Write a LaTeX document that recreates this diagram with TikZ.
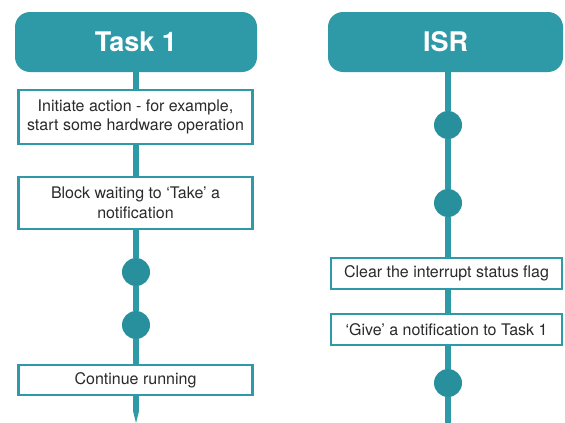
\documentclass[tikz,border=0pt]{standalone}
\usepackage{fontspec}
\setmainfont{TeX Gyre Heros}
\definecolor{teal1}{HTML}{2E9AA7}
\definecolor{teal2}{HTML}{28909D}
\definecolor{txt}{HTML}{2A2A2A}
\begin{document}
\begin{tikzpicture}[x=1pt,y=-1pt,
  header/.style={fill=teal1, draw=none, rounded corners=15pt, text=white,
    font=\fontsize{27}{30}\selectfont\bfseries, minimum height=60pt, inner sep=0pt},
  stepbox/.style={draw=teal1, line width=2.6pt, fill=white, text=txt,
    font=\fontsize{16}{19.5}\selectfont, align=center, inner sep=0pt},
  dot/.style={circle, fill=teal2, minimum size=28pt, inner sep=0pt},
  flow/.style={draw=teal1, line width=6pt}]
\useasboundingbox (0,0) rectangle (565,423);
% Task 1 column
\node[header, minimum width=242pt] (h1) at (136,42) {Task 1};
\node[stepbox, minimum width=234pt, minimum height=54pt] (b1) at (135.5,117) {Initiate action - for example,\\start some hardware operation};
\node[stepbox, minimum width=234pt, minimum height=52pt] (b2) at (135.5,203) {Block waiting to ‘Take’ a\\notification};
\node[dot] (c1) at (136,272) {};
\node[dot] (c2) at (136,325) {};
\node[stepbox, minimum width=234pt, minimum height=30pt] (b3) at (135.5,380) {Continue running};
\coordinate (e1) at (136,411);
\coordinate (t1) at (136,423);
% ISR column
\node[header, minimum width=235pt] (h2) at (445.5,42) {ISR};
\node[dot] (d1) at (448,125) {};
\node[dot] (d2) at (448,203) {};
\node[stepbox, minimum width=231pt, minimum height=31pt] (s1) at (446.5,273.5) {Clear the interrupt status flag};
\node[stepbox, minimum width=231pt, minimum height=31pt] (s2) at (446.5,329.5) {‘Give’ a notification to Task 1};
\node[dot] (d3) at (448,383) {};
\coordinate (e2) at (448,423);
% connectors Task 1
\path[flow] (h1.south) -- (h1.south |- b1.north);
\path[flow] (h1.south |- b1.south) -- (h1.south |- b2.north);
\path[flow] (h1.south |- b2.south) -- (c1.north);
\path[flow] (c1.south) -- (c2.north);
\path[flow] (c2.south) -- (h1.south |- b3.north);
\path[flow] (h1.south |- b3.south) -- (e1);
\fill[teal1] ([xshift=-3pt]e1) -- ([xshift=3pt]e1) -- (t1) -- cycle;
% connectors ISR
\path[flow] (h2.south -| d1.north) -- (d1.north);
\path[flow] (d1.south) -- (d2.north);
\path[flow] (d2.south) -- (d2.south |- s1.north);
\path[flow] (d2.south |- s1.south) -- (d2.south |- s2.north);
\path[flow] (d2.south |- s2.south) -- (d3.north);
\path[flow] (d3.south) -- (e2);
\end{tikzpicture}
\end{document}
